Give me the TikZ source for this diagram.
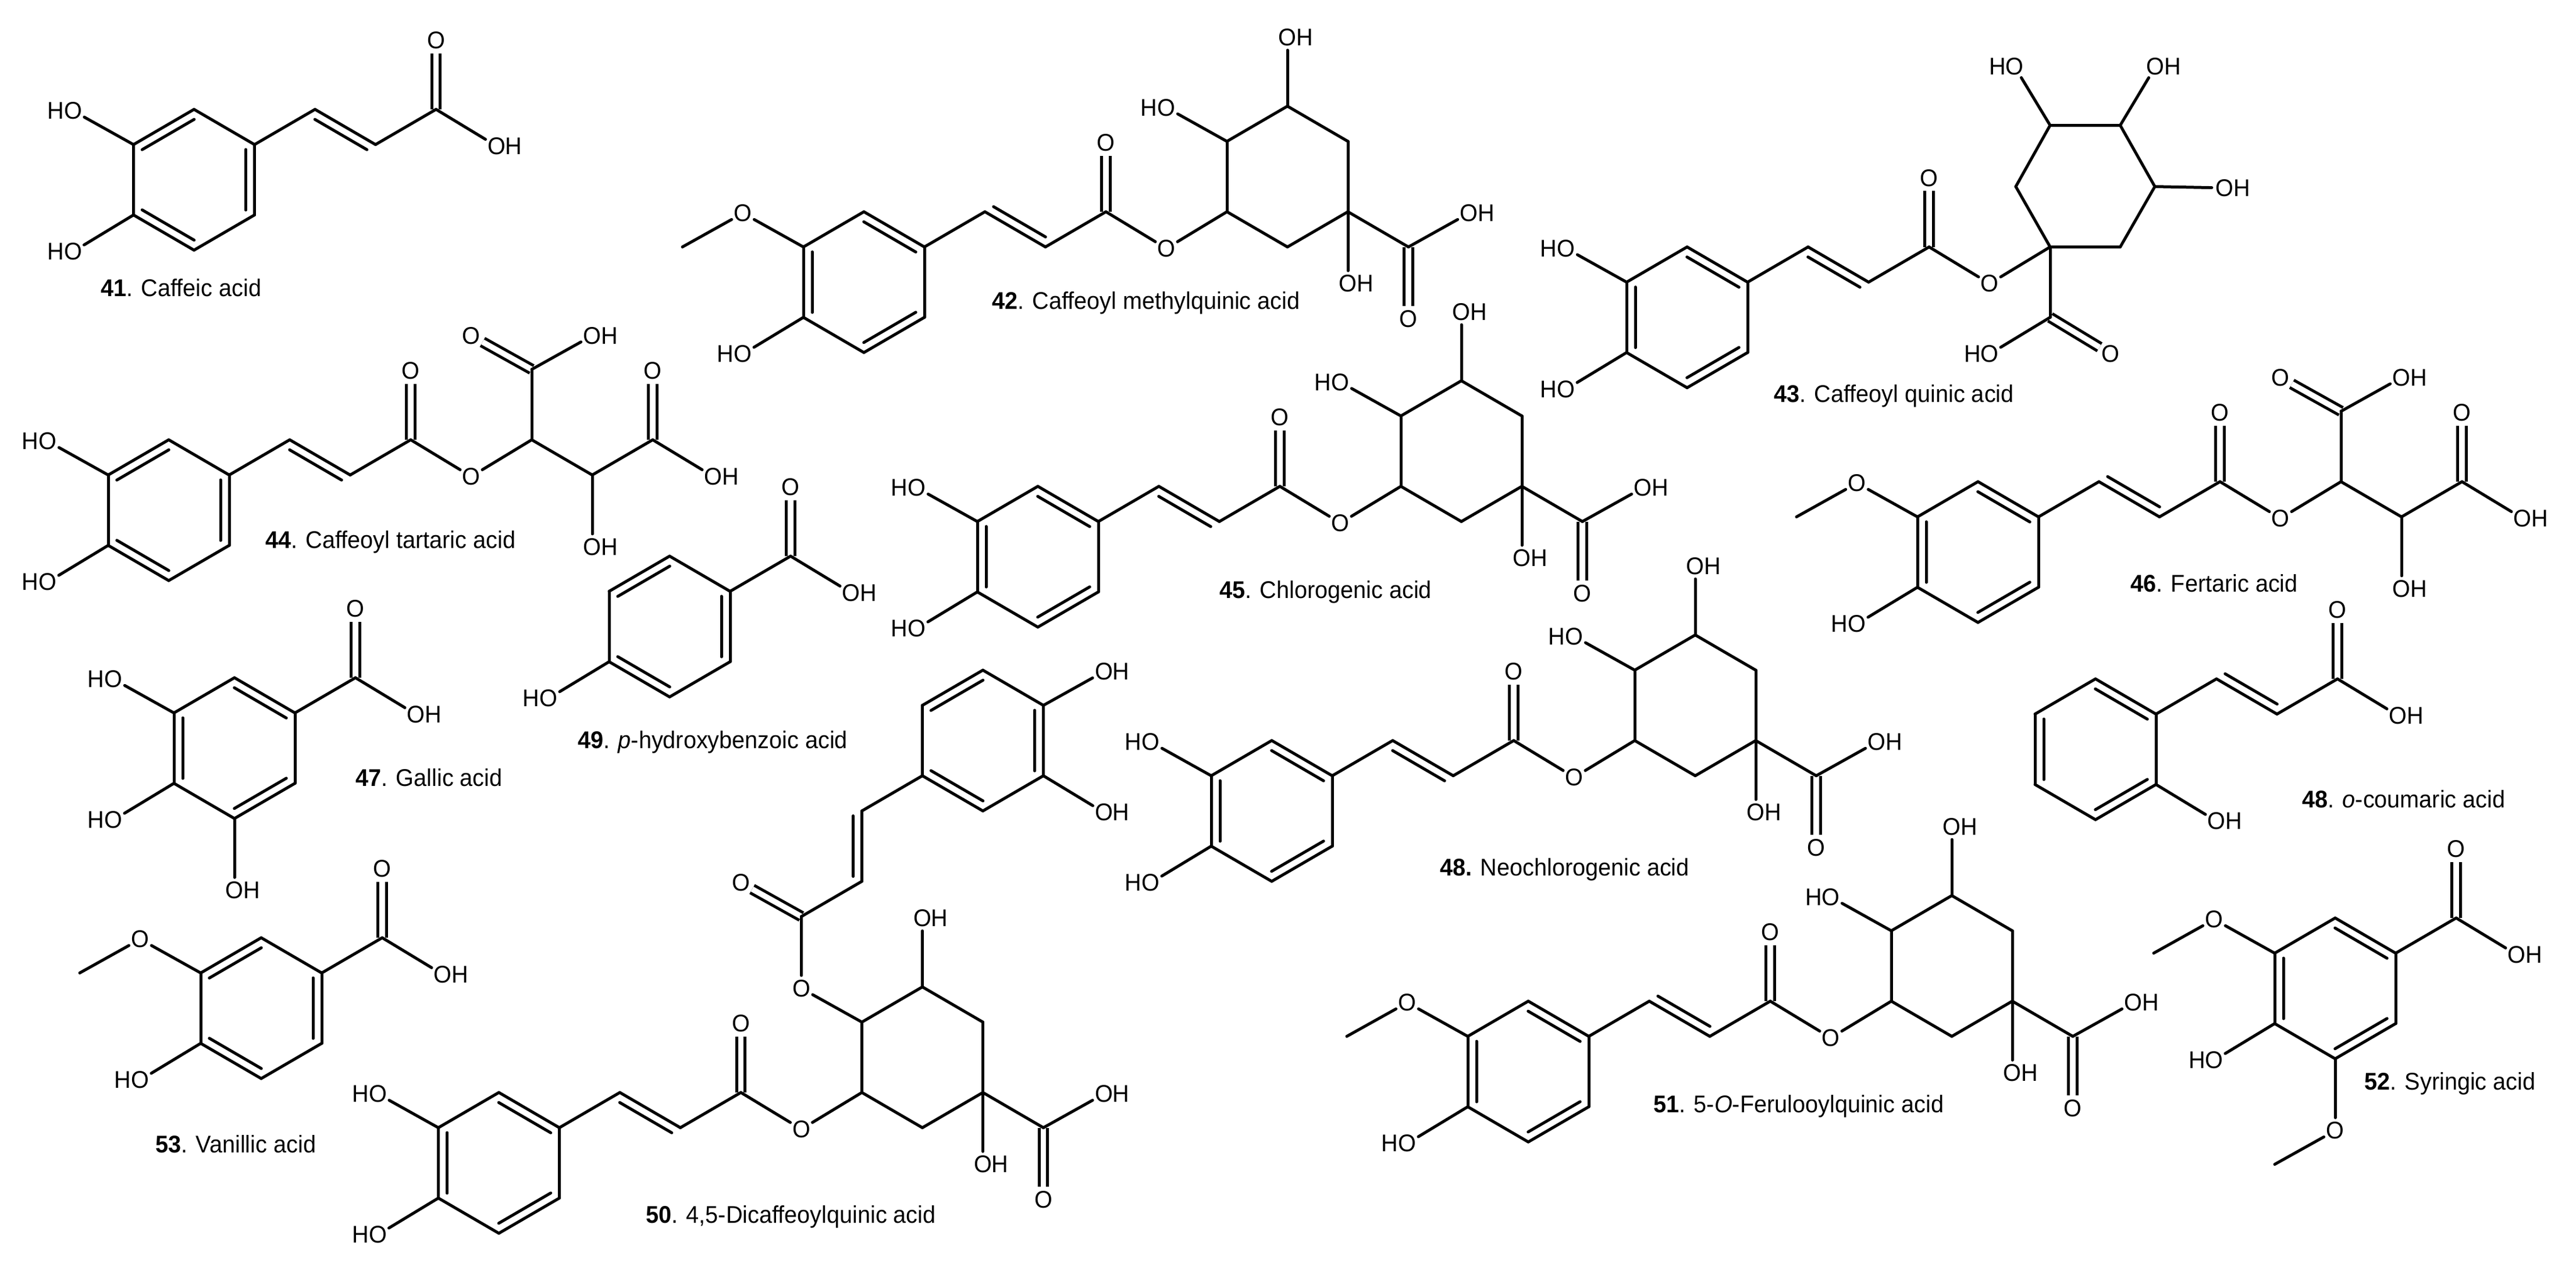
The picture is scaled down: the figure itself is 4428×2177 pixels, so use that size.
\documentclass[tikz,border=0pt]{standalone}
\usepackage{fontspec}
\setmainfont[FakeStretch=0.955]{Liberation Sans}
\usetikzlibrary{calc}
\newcommand\chemfont{\fontsize{8.3pt}{10pt}\selectfont}
\tikzset{
  lat/.style={x=20.8pt,y=-12.1pt},
  bond/.style={line width=1pt,line cap=round,black},
  cdbl/.style={line width=1pt,double,double distance=1.9pt,line cap=butt,black},
  atom/.style={circle,inner sep=0pt,yshift=-0.5pt,font=\chemfont,text=black},
  lab/.style={anchor=base west,inner sep=0pt,yshift=0.6pt,font=\chemfont,text=black}
}
% atoms
\newcommand\atO[3]{\node[atom] (#1) at (#2,#3) {O};}
\newcommand\atOH[3]{\node[atom] (#1) at (#2,#3) {O\rlap{H}};}
\newcommand\atHO[3]{\node[atom] (#1) at (#2,#3) {\llap{H}O};}
% bonds
\newcommand\bondS[2]{\draw[bond] (#1) -- (#2);}
\newcommand\bondO[2]{\draw[cdbl] (#1) -- (#2);}
\newcommand\bondR[2]{\draw[bond] (#1) -- (#2);
  \draw[bond] ($(#1)!.07!(#2)!3pt!-90:(#2)$) -- ($(#2)!.07!(#1)!3pt!90:(#1)$);}
\newcommand\bondL[2]{\draw[bond] (#1) -- (#2);
  \draw[bond] ($(#1)!.07!(#2)!3pt!90:(#2)$) -- ($(#2)!.07!(#1)!3pt!-90:(#1)$);}
% rings
\newcommand\RingCo[1]{\coordinate (#1r1) at (1,0);\coordinate (#1r2) at (2,1);
  \coordinate (#1r3) at (2,3);\coordinate (#1r4) at (1,4);
  \coordinate (#1r5) at (0,3);\coordinate (#1r6) at (0,1);}
\newcommand\RingA[1]{\RingCo{#1}\bondR{#1r6}{#1r1}\bondS{#1r1}{#1r2}\bondR{#1r2}{#1r3}
  \bondS{#1r3}{#1r4}\bondR{#1r4}{#1r5}\bondS{#1r5}{#1r6}}
\newcommand\RingB[1]{\RingCo{#1}\bondR{#1r1}{#1r2}\bondS{#1r2}{#1r3}\bondR{#1r3}{#1r4}
  \bondS{#1r4}{#1r5}\bondR{#1r5}{#1r6}\bondS{#1r6}{#1r1}}
% substituents
\newcommand\Catechol[1]{\atHO{#1ha}{-1}{0}\atHO{#1hb}{-1}{4}\bondS{#1r6}{#1ha}\bondS{#1r5}{#1hb}}
\newcommand\Guaiacol[1]{\atO{#1om}{-1}{0}\coordinate (#1me) at (-2,1);\atHO{#1hb}{-1}{4}
  \bondS{#1r6}{#1om}\bondS{#1om}{#1me}\bondS{#1r5}{#1hb}}
\newcommand\Vinyl[2]{\coordinate (#1v1) at (3,0);\coordinate (#1v2) at (4,1);
  \coordinate (#1c) at (5,0);\atO{#1co}{5}{-2}\bondO{#1c}{#1co}
  \bondS{#1r2}{#1v1}#2{#1v1}{#1v2}\bondS{#1v2}{#1c}}
\newcommand\Benzoic[1]{\coordinate (#1c) at (3,0);\atO{#1co}{3}{-2}\atOH{#1ch}{4}{1}
  \bondO{#1c}{#1co}\bondS{#1r2}{#1c}\bondS{#1c}{#1ch}}
\newcommand\Quinic[1]{\atO{#1oe}{6}{1}
  \coordinate (#1q1) at (7,0);\coordinate (#1q2) at (7,-2);\coordinate (#1q3) at (8,-3);
  \coordinate (#1q4) at (9,-2);\coordinate (#1q5) at (9,0);\coordinate (#1q6) at (8,1);
  \coordinate (#1qc) at (10,1);
  \atHO{#1h2}{6}{-3}\atOH{#1h3}{8}{-5}\atOH{#1h1}{9}{2}\atOH{#1h4}{11}{0}\atO{#1ox}{10}{3}
  \bondO{#1qc}{#1ox}
  \bondS{#1c}{#1oe}\bondS{#1oe}{#1q1}\bondS{#1q1}{#1q2}\bondS{#1q2}{#1q3}\bondS{#1q3}{#1q4}
  \bondS{#1q4}{#1q5}\bondS{#1q5}{#1q6}\bondS{#1q6}{#1q1}
  \bondS{#1q2}{#1h2}\bondS{#1q3}{#1h3}\bondS{#1q5}{#1h1}\bondS{#1q5}{#1qc}\bondS{#1qc}{#1h4}}
\newcommand\Tartaric[1]{\atO{#1oe}{6}{1}
  \coordinate (#1t1) at (7,0);\coordinate (#1t2) at (7,-2);\coordinate (#1t3) at (8,1);
  \coordinate (#1t4) at (9,0);
  \atO{#1ua}{6}{-3}\atOH{#1ub}{8}{-3}\atOH{#1uc}{8}{3}\atO{#1ud}{9}{-2}\atOH{#1ue}{10}{1}
  \bondO{#1t2}{#1ua}\bondO{#1t4}{#1ud}
  \bondS{#1c}{#1oe}\bondS{#1oe}{#1t1}\bondS{#1t1}{#1t2}\bondS{#1t2}{#1ub}\bondS{#1t1}{#1t3}
  \bondS{#1t3}{#1uc}\bondS{#1t3}{#1t4}\bondS{#1t4}{#1ue}}
\begin{document}
\begin{tikzpicture}[x=0.2pt,y=-0.2pt]
\path[fill=white,use as bounding box] (0,0) rectangle (4428,2177);

% 41
\begin{scope}[shift={(229.5,188)},lat]
\RingA{a}\Catechol{a}\Vinyl{a}{\bondR}\atOH{ah}{6}{1}\bondS{ac}{ah}
\end{scope}
\node[lab] (la) at (172,512) {\textbf{41}. Caffeic acid};

% 42
\begin{scope}[shift={(1381,364)},lat]
\RingB{b}\Guaiacol{b}\Vinyl{b}{\bondL}\Quinic{b}
\end{scope}
\node[lab] (lb) at (1704,534) {\textbf{42}. Caffeoyl methylquinic acid};

% 43
\begin{scope}[shift={(2796,424.5)},lat]
\RingB{c}\Catechol{c}\Vinyl{c}{\bondR}
\atO{coe}{6}{1}\coordinate (cq1) at (7,0);\coordinate (cqc) at (7,2);
\atHO{cha}{6}{3}\atO{cox}{8}{3}
\end{scope}
\coordinate (cq2) at (3644.5,424.6);
\coordinate (cq3) at (3704,320.7);
\coordinate (cq4) at (3644.5,215.4);
\coordinate (cq5) at (3524,215.4);
\coordinate (cq6) at (3465,320.7);
\node[atom] (ch3) at (3824,320.5) {O\rlap{H}};
\node[atom] (ch4) at (3705,112) {O\rlap{H}};
\node[atom] (ch5) at (3463,112) {\llap{H}O};
\bondO{cqc}{cox}
\bondS{cc}{coe}\bondS{coe}{cq1}\bondS{cq1}{cq2}\bondS{cq2}{cq3}\bondS{cq3}{cq4}
\bondS{cq4}{cq5}\bondS{cq5}{cq6}\bondS{cq6}{cq1}\bondS{cq1}{cqc}\bondS{cqc}{cha}
\bondS{cq3}{ch3}\bondS{cq4}{ch4}\bondS{cq5}{ch5}
\node[lab] (lc) at (3048,694) {\textbf{43}. Caffeoyl quinic acid};

% 44
\begin{scope}[shift={(186,756)},lat]
\RingA{d}\Catechol{d}\Vinyl{d}{\bondR}\Tartaric{d}
\end{scope}
\node[lab] (ld) at (455,945) {\textbf{44}. Caffeoyl tartaric acid};

% 45
\begin{scope}[shift={(1680,836)},lat]
\RingB{e}\Catechol{e}\Vinyl{e}{\bondR}\Quinic{e}
\end{scope}
\node[lab] (le) at (2095,1031) {\textbf{45}. Chlorogenic acid};

% 46
\begin{scope}[shift={(3296,828)},lat]
\RingB{f}\Guaiacol{f}\Vinyl{f}{\bondL}\Tartaric{f}
\end{scope}
\node[lab] (lf) at (3661,1020) {\textbf{46}. Fertaric acid};

% 47
\begin{scope}[shift={(299,1165)},lat]
\RingB{g}\Catechol{g}\Benzoic{g}\atOH{gh}{1}{6}\bondS{gr4}{gh}
\end{scope}
\node[lab] (lg) at (610,1354) {\textbf{47}. Gallic acid};

% 48 neochlorogenic
\begin{scope}[shift={(2082,1273)},lat]
\RingB{h}\Catechol{h}\Vinyl{h}{\bondR}\Quinic{h}
\end{scope}
\node[lab] (lh) at (2474,1508) {\textbf{48.} Neochlorogenic acid};

% 48 o-coumaric
\begin{scope}[shift={(3498,1167)},lat]
\RingB{i}\Vinyl{i}{\bondL}\atOH{ih}{6}{1}\bondS{ic}{ih}\atOH{ij}{3}{4}\bondS{ir3}{ij}
\end{scope}
\node[lab] (li) at (3956,1391) {\textbf{48}. \textit{o}-coumaric acid};

% 49
\begin{scope}[shift={(1047,956)},lat]
\RingA{j}\Benzoic{j}\atHO{jh}{-1}{4}\bondS{jr5}{jh}
\end{scope}
\node[lab] (lj) at (992,1289) {\textbf{49}. \textit{p}-hydroxybenzoic acid};

% 50
\begin{scope}[shift={(753.5,1878)},lat]
\RingB{k}\Catechol{k}\Vinyl{k}{\bondR}
\atO{koe}{6}{1}\atO{kof}{6}{-3}
\coordinate (kq1) at (7,0);\coordinate (kq2) at (7,-2);\coordinate (kq3) at (8,-3);
\coordinate (kq4) at (9,-2);\coordinate (kq5) at (9,0);\coordinate (kq6) at (8,1);
\coordinate (kqc) at (10,1);
\atOH{kh3}{8}{-5}\atOH{kh1}{9}{2}\atOH{kh4}{11}{0}\atO{kox}{10}{3}
\bondO{kqc}{kox}
\bondS{kc}{koe}\bondS{koe}{kq1}\bondS{kq1}{kq2}\bondS{kq2}{kq3}\bondS{kq3}{kq4}
\bondS{kq4}{kq5}\bondS{kq5}{kq6}\bondS{kq6}{kq1}\bondS{kq2}{kof}
\bondS{kq3}{kh3}\bondS{kq5}{kh1}\bondS{kq5}{kqc}\bondS{kqc}{kh4}
\coordinate (kd) at (6,-5);\coordinate (kw1) at (7,-6);\coordinate (kw2) at (7,-8);
\atO{kdo}{5}{-6}
\bondO{kd}{kdo}
\bondS{kof}{kd}\bondS{kd}{kw1}\bondL{kw1}{kw2}
\begin{scope}[shift={(8,-12)}]
\RingA{n}\atOH{nha}{3}{0}\atOH{nhb}{3}{4}\bondS{nr2}{nha}\bondS{nr3}{nhb}
\end{scope}
\bondS{kw2}{nr5}
\end{scope}
\node[lab] (lk) at (1109,2105) {\textbf{50}. 4,5-Dicaffeoylquinic acid};

% 51
\begin{scope}[shift={(2523,1721)},lat]
\RingB{m}\Guaiacol{m}\Vinyl{m}{\bondL}\Quinic{m}
\end{scope}
\node[lab] (lm) at (2841,1915) {\textbf{51}. 5-\textit{O}-Ferulooylquinic acid};

% 52
\begin{scope}[shift={(3910,1578)},lat]
\RingB{p}\Guaiacol{p}\Benzoic{p}\atO{pom}{1}{6}\coordinate (pme) at (0,7);
\bondS{pr4}{pom}\bondS{pom}{pme}
\end{scope}
\node[lab] (lp) at (4063,1876) {\textbf{52}. Syringic acid};

% 53
\begin{scope}[shift={(345,1612)},lat]
\RingA{q}\Guaiacol{q}\Benzoic{q}
\end{scope}
\node[lab] (lq) at (266,1984) {\textbf{53}. Vanillic acid};
\end{tikzpicture}
\end{document}
